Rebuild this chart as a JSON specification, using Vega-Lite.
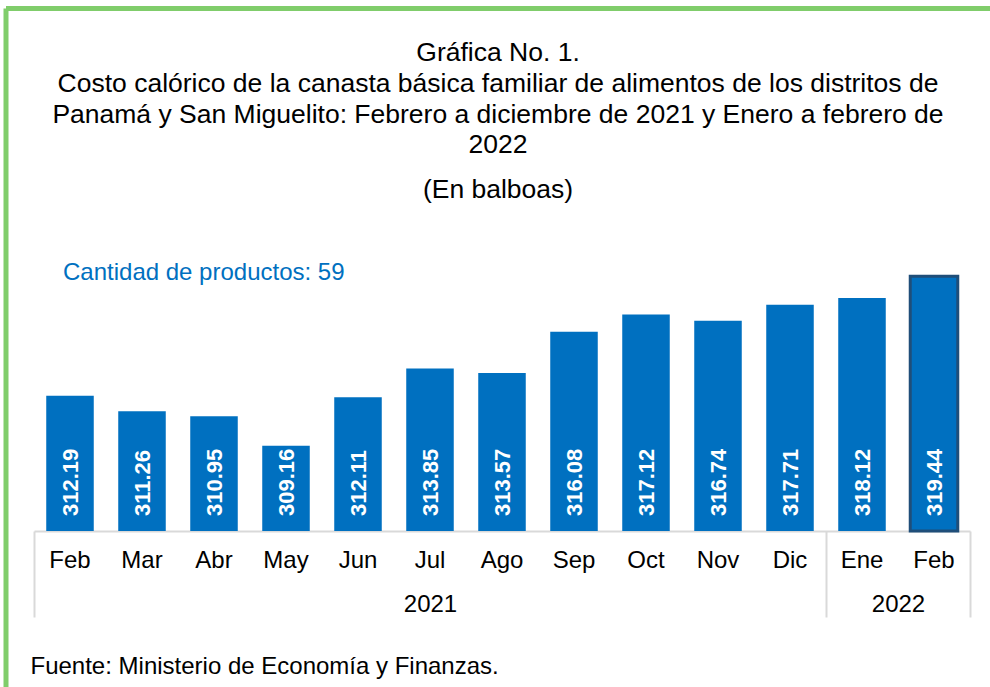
{
  "$schema": "https://vega.github.io/schema/vega-lite/v6.json",
  "autosize": {"type": "none"},
  "padding": {"left": 6, "top": 8.5, "right": 0, "bottom": 0},
  "width": 984,
  "height": 678.5,
  "background": "#ffffff",
  "config": {
    "view": {"stroke": "#80CD6B", "strokeWidth": 5, "strokeDash": [984, 1662.5, 678.5, 0]},
    "font": "Liberation Sans"
  },
  "title": {
    "text": [
      "Gráfica No. 1.",
      "Costo calórico de la canasta básica familiar de alimentos de los distritos de",
      "Panamá y San Miguelito: Febrero a diciembre de 2021 y Enero a febrero de",
      "2022"
    ],
    "subtitle": "(En balboas)",
    "anchor": "middle",
    "frame": "group",
    "orient": "top",
    "offset": -195,
    "font": "Liberation Sans",
    "fontSize": 26.5,
    "fontWeight": "normal",
    "color": "#000000",
    "lineHeight": 30.7,
    "subtitleFont": "Liberation Sans",
    "subtitleFontSize": 26.5,
    "subtitleColor": "#000000",
    "subtitlePadding": 18
  },
  "data": {
    "values": [
      {"periodo": "2021 Feb", "anio": "2021", "mes": "Feb", "costo": 312.19},
      {"periodo": "2021 Mar", "anio": "2021", "mes": "Mar", "costo": 311.26},
      {"periodo": "2021 Abr", "anio": "2021", "mes": "Abr", "costo": 310.95},
      {"periodo": "2021 May", "anio": "2021", "mes": "May", "costo": 309.16},
      {"periodo": "2021 Jun", "anio": "2021", "mes": "Jun", "costo": 312.11},
      {"periodo": "2021 Jul", "anio": "2021", "mes": "Jul", "costo": 313.85},
      {"periodo": "2021 Ago", "anio": "2021", "mes": "Ago", "costo": 313.57},
      {"periodo": "2021 Sep", "anio": "2021", "mes": "Sep", "costo": 316.08},
      {"periodo": "2021 Oct", "anio": "2021", "mes": "Oct", "costo": 317.12},
      {"periodo": "2021 Nov", "anio": "2021", "mes": "Nov", "costo": 316.74},
      {"periodo": "2021 Dic", "anio": "2021", "mes": "Dic", "costo": 317.71},
      {"periodo": "2022 Ene", "anio": "2022", "mes": "Ene", "costo": 318.12},
      {"periodo": "2022 Feb", "anio": "2022", "mes": "Feb", "costo": 319.44}
    ]
  },
  "resolve": {"axis": {"x": "independent"}},
  "layer": [
    {
      "mark": {"type": "bar", "width": {"band": 0.66}, "color": "#0070C0"},
      "encoding": {
        "x": {
          "field": "periodo",
          "type": "ordinal",
          "sort": null,
          "scale": {"range": [28, 964], "paddingInner": 0, "paddingOuter": 0},
          "axis": {
            "title": null,
            "orient": "bottom",
            "offset": -156,
            "domain": true,
            "domainColor": "#D9D9D9",
            "domainWidth": 2,
            "ticks": false,
            "grid": false,
            "labelExpr": "split(datum.value, ' ')[1]",
            "labelAngle": 0,
            "labelFont": "Liberation Sans",
            "labelFontSize": 24,
            "labelColor": "#000000",
            "labelBaseline": "alphabetic",
            "labelPadding": 36.5,
            "labelOverlap": false,
            "labelBound": false
          }
        },
        "y": {
          "field": "costo",
          "type": "quantitative",
          "scale": {"domain": [304, 320], "range": [522.5, 258.5], "zero": false, "nice": false},
          "axis": {
            "title": "Cantidad de productos: 59",
            "domain": false,
            "ticks": false,
            "labels": false,
            "grid": false,
            "titleAngle": 0,
            "titleX": 56.5,
            "titleY": 270.8,
            "titleAlign": "left",
            "titleBaseline": "alphabetic",
            "titleFont": "Liberation Sans",
            "titleFontSize": 24,
            "titleFontWeight": "normal",
            "titleColor": "#0070C0"
          }
        },
        "y2": {"datum": 304},
        "stroke": {
          "condition": {"test": "datum.periodo === '2022 Feb'", "value": "#1F4E79"},
          "value": "transparent"
        },
        "strokeWidth": {
          "condition": {"test": "datum.periodo === '2022 Feb'", "value": 3},
          "value": 0
        }
      }
    },
    {
      "mark": {
        "type": "text",
        "angle": 270,
        "align": "left",
        "baseline": "middle",
        "dx": 15,
        "dy": 1,
        "font": "Liberation Sans",
        "fontSize": 22,
        "fontWeight": "bold",
        "color": "#ffffff"
      },
      "encoding": {
        "x": {
          "field": "periodo",
          "type": "ordinal",
          "sort": null,
          "axis": {
            "title": "Fuente: Ministerio de Economía y Finanzas.",
            "titleX": 24,
            "titleY": 142.5,
            "titleAlign": "left",
            "titleAnchor": "start",
            "titleBaseline": "alphabetic",
            "titleFont": "Liberation Sans",
            "titleFontSize": 24,
            "titleFontWeight": "normal",
            "titleColor": "#000000",
            "orient": "bottom",
            "offset": -156,
            "domain": false,
            "grid": false,
            "ticks": true,
            "tickBand": "extent",
            "tickSize": 86,
            "tickWidth": 2,
            "tickColor": {
              "condition": {"test": "datum.extra || datum.value === '2021 Dic' || datum.value === '2022 Feb'", "value": "#D9D9D9"},
              "value": "transparent"
            },
            "labelExpr": "datum.value === '2021 Jul' || datum.value === '2022 Feb' ? split(datum.value, ' ')[0] : ''",
            "labelOffset": {
              "condition": {"test": "datum.value === '2022 Feb'", "value": -36},
              "value": 0
            },
            "labelAngle": 0,
            "labelFont": "Liberation Sans",
            "labelFontSize": 24,
            "labelColor": "#000000",
            "labelBaseline": "alphabetic",
            "labelPadding": -6,
            "labelOverlap": false,
            "labelBound": false
          }
        },
        "y": {"datum": 304, "type": "quantitative"},
        "text": {"field": "costo", "type": "quantitative", "format": ".2f"}
      }
    }
  ]
}
